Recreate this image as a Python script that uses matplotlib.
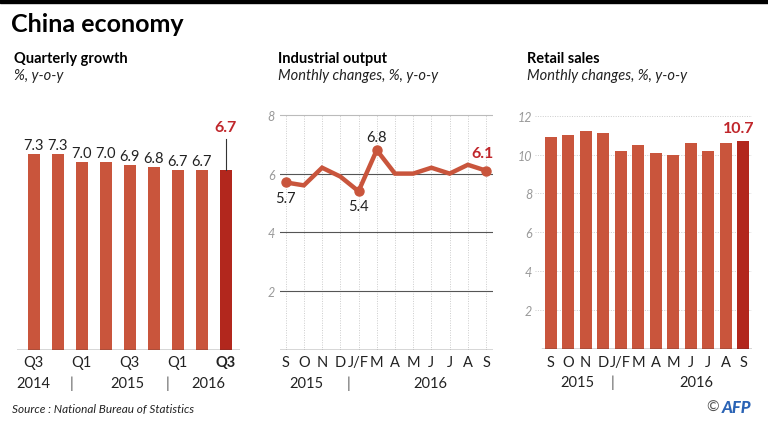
import numpy as np
import matplotlib.pyplot as plt

plt.rcParams['font.family'] = ['Lato', 'DejaVu Sans']

# quarterly GDP growth
gdp_vals = [7.3, 7.3, 7.0, 7.0, 6.9, 6.8, 6.7, 6.7, 6.7]
gdp_ticks = ['Q3', '', 'Q1', '', 'Q3', '', 'Q1', '', 'Q3']
gdp_years = ['2014', '2015', '2016']

# industrial output, monthly
months = ['S', 'O', 'N', 'D', 'J/F', 'M', 'A', 'M', 'J', 'J', 'A', 'S']
ind_vals = [5.7, 5.6, 6.2, 5.9, 5.4, 6.8, 6.0, 6.0, 6.2, 6.0, 6.3, 6.1]

# retail sales, monthly
retail_vals = [10.9, 11.0, 11.2, 11.1, 10.2, 10.5, 10.1, 10.0, 10.6, 10.2, 10.6, 10.7]

BAR = '#c9553c'
DARK = '#b2271d'
RED = '#c0262b'
W, H = 768, 427

fig = plt.figure(figsize=(7.68, 4.27), dpi=100)


def px_axes(x0, y0, x1, y1):
    # axes from pixel box (top-left origin)
    return fig.add_axes([x0 / W, 1 - y1 / H, (x1 - x0) / W, (y1 - y0) / H])


def clean(ax):
    for s in ax.spines.values():
        s.set_visible(False)
    ax.set_facecolor('none')


def under(ax, x, txt, dy, color='#222222', **kw):
    ax.annotate(txt, xy=(x, 0), xycoords=ax.get_xaxis_transform(),
                xytext=(0, dy), textcoords='offset pixels',
                ha='center', va='center', fontsize=10.5, color=color, **kw)


# top black band and title
fig.patches.append(plt.Rectangle((0, 1 - 4 / H), 1, 4 / H, transform=fig.transFigure,
                                 color='black', zorder=5))
fig.text(11 / W, 1 - 25 / H, 'China economy', fontsize=18, fontweight='bold',
         va='center', ha='left')

# panel headings
for x, t1, t2 in [(14, 'Quarterly growth', '%, y-o-y'),
                  (278, 'Industrial output', 'Monthly changes, %, y-o-y'),
                  (527, 'Retail sales', 'Monthly changes, %, y-o-y')]:
    fig.text(x / W, 1 - 59 / H, t1, fontsize=10.5, fontweight='bold', va='center')
    fig.text(x / W, 1 - 76 / H, t2, fontsize=10.5, style='italic', va='center',
             color='#222222')

# ---- panel 1: quarterly growth
ax1 = px_axes(17, 100, 240, 351)
clean(ax1)
x1 = np.arange(len(gdp_vals))
cols = [BAR] * (len(gdp_vals) - 1) + [DARK]
ax1.bar(x1, gdp_vals, width=0.5, color=cols)
ax1.set_xlim(-0.6875, 8.604)
ax1.set_ylim(0, 251 / 26.85)
ax1.axhline(0, color='#333333', lw=1)
for i, v in enumerate(gdp_vals[:-1]):
    ax1.annotate(f'{v:.1f}', xy=(i, v), xytext=(0, 9), textcoords='offset pixels',
                 ha='center', va='center', fontsize=10.5, color='#222222')
last = len(gdp_vals) - 1
ax1.plot([last, last], [gdp_vals[-1], gdp_vals[-1] + 31 / 26.85], color='#333333', lw=0.8)
ax1.annotate(f'{gdp_vals[-1]:.1f}', xy=(last, gdp_vals[-1]), xytext=(0, 43),
             textcoords='offset pixels', ha='center', va='center', fontsize=11.5,
             fontweight='bold', color=RED)
ax1.set_xticks([])
ax1.set_yticks([])
for i, t in enumerate(gdp_ticks):
    if t:
        under(ax1, i, t, -12, fontweight='bold' if i == last else 'normal')
for x, t in zip([0, 3.9, 7.3], gdp_years):
    under(ax1, x, t, -33)
for x in [1.6, 5.6]:
    under(ax1, x, '|', -33, color='#555555')

# ---- panel 2: industrial output
ax2 = px_axes(280, 100, 493, 351)
clean(ax2)
x2 = np.arange(len(ind_vals))
ax2.set_xlim(-0.31, 11.38)
ax2.set_ylim(0, 251 / 29.4)
for xv in x2:
    ax2.plot([xv, xv], [0, 8], color='#cccccc', lw=0.7, ls=(0, (1, 1.5)), zorder=1)
ax2.axhline(8, color='#bbbbbb', lw=0.8, zorder=1)
for yv in [2, 4, 6]:
    ax2.axhline(yv, color='#555555', lw=0.8, zorder=1)
ax2.axhline(0, color='#333333', lw=1, zorder=2)
ax2.plot(x2, ind_vals, color=BAR, lw=3.2, zorder=3, solid_joinstyle='miter')
mk = [0, 4, 5, 11]
ax2.plot(x2[mk], np.array(ind_vals)[mk], 'o', color=BAR, ms=6.5, zorder=4)
ax2.annotate('5.7', xy=(0, ind_vals[0]), xytext=(0, -16), textcoords='offset pixels',
             ha='center', va='center', fontsize=10.5, color='#222222')
ax2.annotate('5.4', xy=(4, ind_vals[4]), xytext=(0, -15), textcoords='offset pixels',
             ha='center', va='center', fontsize=10.5, color='#222222')
ax2.annotate('6.8', xy=(5, ind_vals[5]), xytext=(0, 13), textcoords='offset pixels',
             ha='center', va='center', fontsize=10.5, color='#222222')
ax2.annotate('6.1', xy=(11, ind_vals[11]), xytext=(-4, 18), textcoords='offset pixels',
             ha='center', va='center', fontsize=11.5, fontweight='bold', color=RED)
ax2.set_xticks([])
ax2.set_yticks([2, 4, 6, 8])
ax2.set_yticklabels(['2', '4', '6', '8'], style='italic', color='#999999', fontsize=9)
ax2.tick_params(axis='y', length=0, pad=4)
for i, t in enumerate(months):
    under(ax2, i, t, -12)
under(ax2, 1.15, '2015', -33)
under(ax2, 3.45, '|', -33, color='#555555')
under(ax2, 7.95, '2016', -33)

# ---- panel 3: retail sales
ax3 = px_axes(535, 100, 752, 350)
clean(ax3)
x3 = np.arange(len(retail_vals))
ax3.set_xlim(-0.897, 11.497)
ax3.set_ylim(0, 250 / 19.44)
for yv in [2, 4, 6, 8, 10, 12]:
    ax3.axhline(yv, color='#cccccc', lw=0.7, ls=(0, (1, 1.5)), zorder=1)
cols3 = [BAR] * (len(retail_vals) - 1) + [DARK]
ax3.bar(x3, retail_vals, width=0.69, color=cols3, zorder=2)
ax3.axhline(0, xmin=(541.7 - 535) / 217, color='#333333', lw=1, zorder=3)
ax3.annotate(f'{retail_vals[-1]:.1f}', xy=(11, retail_vals[-1]), xytext=(-5, 6),
             textcoords='offset pixels', ha='center', va='bottom', fontsize=11.5,
             fontweight='bold', color=RED)
ax3.set_xticks([])
ax3.set_yticks([2, 4, 6, 8, 10, 12])
ax3.set_yticklabels(['2', '4', '6', '8', '10', '12'], style='italic', color='#999999',
                    fontsize=9)
ax3.tick_params(axis='y', length=0, pad=2)
for i, t in enumerate(months):
    under(ax3, i, t, -13)
under(ax3, 1.55, '2015', -33)
under(ax3, 3.55, '|', -33, color='#555555')
under(ax3, 8.3, '2016', -33)

# footer
fig.text(12 / W, 1 - 410 / H, 'Source : National Bureau of Statistics', fontsize=8.5,
         style='italic', va='center', color='#222222')
fig.text(713 / W, 1 - 408 / H, '©', fontsize=11, va='center', ha='center', color='#555555')
fig.text(722 / W, 1 - 408 / H, 'AFP', fontsize=12, va='center', ha='left',
         fontweight='black', style='italic', color='#2a63b5')

fig.savefig('out.png', dpi=100)
